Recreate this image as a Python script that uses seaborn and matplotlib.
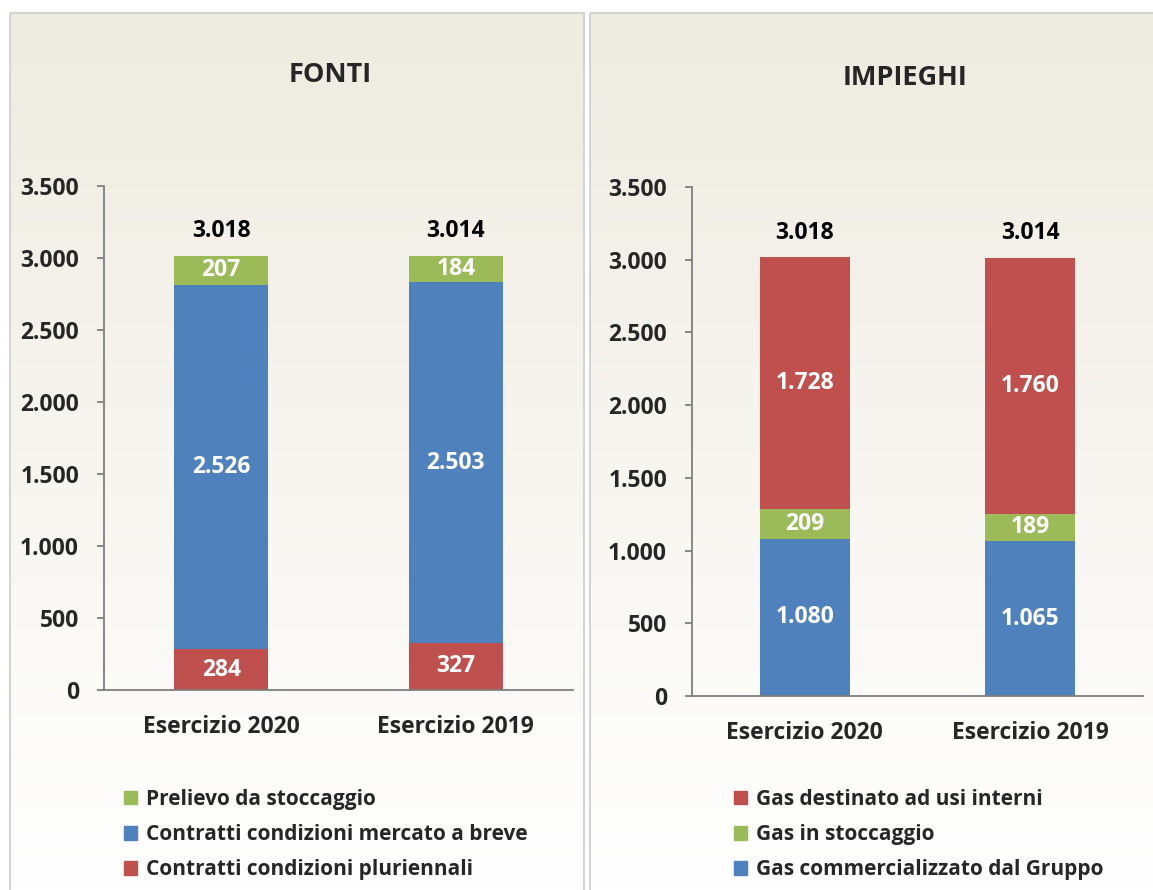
import numpy as np
import pandas as pd
import matplotlib
matplotlib.use("Agg")
import matplotlib.pyplot as plt
import matplotlib.patches as mpatches
import seaborn as sns

# Data (milioni di mc)
anni = ["Esercizio 2020", "Esercizio 2019"]

fonti_pluriennali = [284, 327]
fonti_breve = [2526, 2503]
fonti_stoccaggio = [207, 184]
fonti_totali = [3018, 3014]

imp_commercializzato = [1080, 1065]
imp_stoccaggio = [209, 189]
imp_interni = [1728, 1760]
imp_totali = [3018, 3014]

yticks = [0, 500, 1000, 1500, 2000, 2500, 3000, 3500]

RED = "#C0504D"
BLUE = "#4F81BD"
GREEN = "#9BBB59"

sns.set_theme(style="white")
plt.rcParams["font.family"] = ["Open Sans", "DejaVu Sans"]
plt.rcParams["font.weight"] = "bold"

FS = 16.5

W, H = 1153, 890
fig = plt.figure(figsize=(W / 100, H / 100), dpi=100)
fig.patch.set_facecolor("white")

# background panels with vertical gradient
bg = fig.add_axes([0, 0, 1, 1], zorder=0)
bg.set_xlim(0, W)
bg.set_ylim(H, 0)
bg.axis("off")
top = np.array([238, 235, 224]) / 255
bot = np.array([255, 255, 255]) / 255
t = np.linspace(0, 1, 200)[:, None]
grad = (top * (1 - t) + bot * t)[:, None, :]
for x0, x1 in [(10, 584), (590, W + 5)]:
    bg.imshow(grad, extent=(x0, x1, H, 13), aspect="auto", zorder=0)
    bg.add_patch(mpatches.Rectangle((x0, 13), x1 - x0, H, fill=False,
                                    edgecolor="#D4D4D4", lw=1.5, zorder=1))


def fmt(v):
    return f"{v:,}".replace(",", ".")


def stacked(ax, layers, totali):
    # layers: list of (name, values, color) from bottom to top
    df = pd.DataFrame({"anno": anni})
    cum = np.zeros(len(anni))
    cums = []
    for name, vals, col in layers:
        bottom = cum.copy()
        cum = cum + np.array(vals)
        cums.append((name, bottom, cum.copy(), vals, col))
    # draw from top layer down so that bars overlap into a stack
    for name, bottom, c, vals, col in reversed(cums):
        df["val"] = c
        sns.barplot(data=df, x="anno", y="val", color=col, width=0.4,
                    saturation=1, linewidth=0, ax=ax, zorder=2)
        for i, v in enumerate(vals):
            ax.text(i, bottom[i] + v / 2, fmt(v), ha="center", va="center",
                    color="white", fontsize=FS, fontweight="bold", zorder=3)
    for i, tot in enumerate(totali):
        ax.annotate(fmt(tot), (i, cum[i]), xytext=(0, 9), textcoords="offset points",
                    ha="center", va="bottom", fontsize=FS, fontweight="bold", color="black")

    ax.set_facecolor("none")
    ax.set_xlim(-0.5, 1.5)
    ax.set_ylim(0, 3500)
    ax.set_yticks(yticks)
    ax.set_yticklabels([fmt(v) for v in yticks], fontsize=FS, fontweight="bold")
    ax.set_xticks([0, 1])
    ax.set_xticklabels(anni, fontsize=FS, fontweight="bold")
    ax.set_xticks([-0.5, 0.5, 1.5], minor=True)
    ax.tick_params(axis="x", which="major", length=0, pad=18)
    ax.tick_params(axis="x", which="minor", length=6, width=1.3, color="#7F7F7F", direction="out")
    ax.tick_params(axis="y", length=5, width=1.3, color="#7F7F7F", direction="out", pad=13, left=True)
    ax.set_xlabel("")
    ax.set_ylabel("")
    for s in ["top", "right"]:
        ax.spines[s].set_visible(False)
    for s in ["left", "bottom"]:
        ax.spines[s].set_color("#7F7F7F")
        ax.spines[s].set_linewidth(1.3)


ax1 = fig.add_axes([104 / W, 1 - 690 / H, 469 / W, 504 / H], zorder=2)
stacked(ax1, [("Contratti condizioni pluriennali", fonti_pluriennali, RED),
              ("Contratti condizioni mercato a breve", fonti_breve, BLUE),
              ("Prelievo da stoccaggio", fonti_stoccaggio, GREEN)], fonti_totali)

ax2 = fig.add_axes([692 / W, 1 - 696 / H, 451 / W, 509 / H], zorder=2)
stacked(ax2, [("Gas commercializzato dal Gruppo", imp_commercializzato, BLUE),
              ("Gas in stoccaggio", imp_stoccaggio, GREEN),
              ("Gas destinato ad usi interni", imp_interni, RED)], imp_totali)

fig.text(330 / W, 1 - 75 / H, "FONTI", ha="center", va="center", fontsize=19.5, fontweight="bold")
fig.text(905 / W, 1 - 78 / H, "IMPIEGHI", ha="center", va="center", fontsize=19.5, fontweight="bold")

leg_kw = dict(frameon=False, loc="upper left", bbox_transform=fig.transFigure,
              handlelength=0.62, handleheight=0.62, handletextpad=0.45, labelspacing=0.68,
              borderpad=0, borderaxespad=0, prop={"size": 15, "weight": "bold"})
h1 = [mpatches.Patch(color=GREEN, label="Prelievo da stoccaggio"),
      mpatches.Patch(color=BLUE, label="Contratti condizioni mercato a breve"),
      mpatches.Patch(color=RED, label="Contratti condizioni pluriennali")]
fig.legend(handles=h1, bbox_to_anchor=(124 / W, 1 - 789 / H), **leg_kw)
h2 = [mpatches.Patch(color=RED, label="Gas destinato ad usi interni"),
      mpatches.Patch(color=GREEN, label="Gas in stoccaggio"),
      mpatches.Patch(color=BLUE, label="Gas commercializzato dal Gruppo")]
fig.legend(handles=h2, bbox_to_anchor=(734 / W, 1 - 789 / H), **leg_kw)

fig.savefig("out.png", dpi=100)
